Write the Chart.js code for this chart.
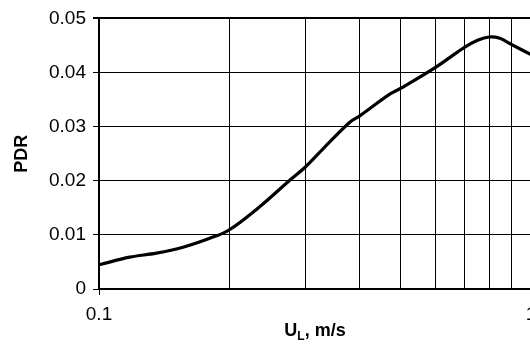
<!DOCTYPE html>
<html>
<head>
<meta charset="utf-8">
<script src="https://cdn.jsdelivr.net/npm/chart.js@4/dist/chart.umd.min.js"></script>
<style>
  html, body { margin: 0; padding: 0; background: #fff; overflow: hidden; }
  #wrap { width: 530px; height: 344px; overflow: hidden; position: relative; }
  canvas { display: block; }
</style>
</head>
<body>
<div id="wrap"><canvas id="c" width="560" height="344"></canvas></div>
<script>
// Liquid velocity U_L (m/s), log axis
const velocity = [0.1, 0.1178, 0.1358, 0.1565, 0.1805, 0.2, 0.2355, 0.2764, 0.3, 0.33, 0.3806, 0.4, 0.471, 0.5, 0.6, 0.7, 0.7544, 0.8, 0.8466, 0.9, 1.0];
// PDR values at each velocity
const pdr = [0.00447, 0.00588, 0.00662, 0.00772, 0.00937, 0.0109, 0.0152, 0.0201, 0.0225, 0.0259, 0.0308, 0.0319, 0.036, 0.0371, 0.0409, 0.0446, 0.046, 0.04656, 0.04632, 0.0452, 0.0433];
// Grid positions on the velocity axis and the ones that carry a label
const xGridTicks = [0.1, 0.2, 0.3, 0.4, 0.5, 0.6, 0.7, 0.8, 0.9, 1];
const xLabelled = [0.1, 1];
const yTicks = [0, 0.01, 0.02, 0.03, 0.04, 0.05];

const FONT = "'Liberation Sans', Arial, sans-serif";

// Bottom axis title with a subscript L
const axisTitlePlugin = {
  id: 'axisTitle',
  afterDraw(chart) {
    const ctx = chart.ctx;
    const area = chart.chartArea;
    const cx = (area.left + area.right) / 2;
    const base = 336;
    ctx.save();
    ctx.fillStyle = '#000';
    ctx.textBaseline = 'alphabetic';
    ctx.textAlign = 'left';
    const big = "bold 18px " + FONT;
    const small = "bold 12px " + FONT;
    ctx.font = big;
    const wU = ctx.measureText('U').width;
    const wRest = ctx.measureText(', m/s').width;
    ctx.font = small;
    const wL = ctx.measureText('L').width;
    let x = cx - (wU + wL + wRest) / 2;
    ctx.font = big;
    ctx.fillText('U', x, base);
    x += wU;
    ctx.font = small;
    ctx.fillText('L', x, base + 4);
    x += wL;
    ctx.font = big;
    ctx.fillText(', m/s', x, base);
    ctx.restore();
  }
};

new Chart(document.getElementById('c'), {
  type: 'line',
  data: {
    datasets: [{
      data: velocity.map((v, i) => ({ x: v, y: pdr[i] })),
      borderColor: '#000',
      borderWidth: 3.2,
      pointRadius: 0,
      tension: 0.35,
      fill: false
    }]
  },
  options: {
    responsive: false,
    animation: false,
    layout: { padding: { top: 17, right: 29, left: 0, bottom: 0 } },
    plugins: { legend: { display: false }, tooltip: { enabled: false } },
    scales: {
      x: {
        type: 'logarithmic',
        min: 0.1,
        max: 1,
        afterBuildTicks: s => { s.ticks = xGridTicks.map(v => ({ value: v })); },
        afterFit: s => { s.height = 55; },
        ticks: {
          autoSkip: false,
          maxRotation: 0,
          color: '#000',
          font: { family: FONT, size: 19 },
          padding: 8,
          callback: v => xLabelled.includes(v) ? String(v) : ''
        },
        grid: {
          color: '#000',
          lineWidth: 1,
          tickLength: 6,
          tickColor: c => (c.tick && xLabelled.includes(c.tick.value)) ? '#000' : 'rgba(0,0,0,0)'
        },
        border: { color: '#000', width: 2 }
      },
      y: {
        min: 0,
        max: 0.05,
        afterBuildTicks: s => { s.ticks = yTicks.map(v => ({ value: v })); },
        afterFit: s => { s.width = 99; },
        ticks: {
          color: '#000',
          font: { family: FONT, size: 19 },
          padding: 7,
          callback: v => v === 0 ? '0' : v.toFixed(2)
        },
        grid: {
          color: '#000',
          lineWidth: c => (c.tick && c.tick.value === 0.05) ? 2 : 1,
          tickLength: 6,
          tickColor: '#000'
        },
        border: { color: '#000', width: 2 },
        title: {
          display: true,
          text: 'PDR',
          color: '#000',
          font: { family: FONT, size: 18, weight: 'bold' },
          padding: { top: 11, bottom: 0 }
        }
      }
    }
  },
  plugins: [axisTitlePlugin]
});
</script>
</body>
</html>
